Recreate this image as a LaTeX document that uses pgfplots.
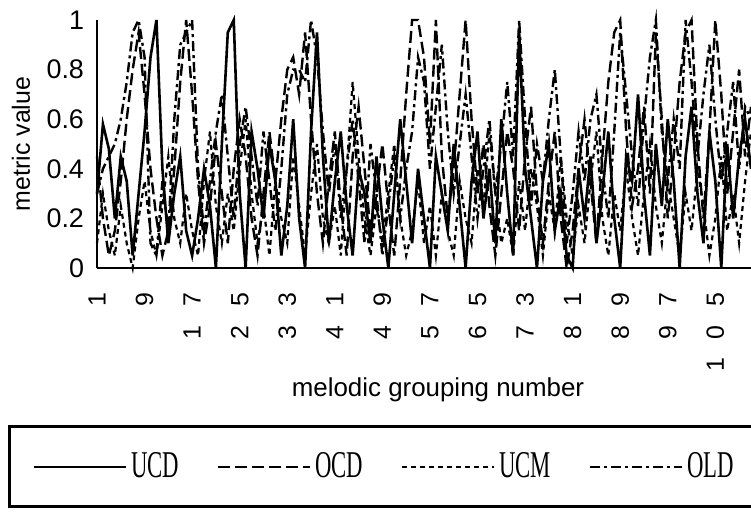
\documentclass[border=0pt]{standalone}
\usepackage{fontspec}
\setmainfont{Liberation Sans}
\newfontfamily\legfont{Liberation Serif}
\newfontfamily\tickfont[LetterSpace=75]{Liberation Sans}
\usepackage{graphicx}
\usepackage{pgfplots}
\usepackage{pgfplotstable}
\pgfplotsset{compat=1.18}

\pgfplotstableread{
g ucd ocd ucm old
1 0.30 0.45 0.10 0.30
2 0.58 0.20 0.30 0.40
3 0.48 0.05 0.15 0.45
4 0.20 0.15 0.05 0.50
5 0.45 0.35 0.25 0.60
6 0.35 0.60 0.10 0.75
7 0.05 0.80 0.00 0.95
8 0.30 0.95 0.20 1.00
9 0.55 0.70 0.35 0.85
10 0.85 0.40 0.15 0.10
11 1.00 0.20 0.05 0.05
12 0.40 0.05 0.25 0.35
13 0.10 0.15 0.45 0.15
14 0.30 0.40 0.20 0.60
15 0.45 0.75 0.10 0.90
16 0.15 1.00 0.30 0.95
17 0.05 0.70 0.15 1.00
18 0.20 0.35 0.05 0.40
19 0.40 0.10 0.35 0.15
20 0.25 0.25 0.55 0.35
21 0.00 0.50 0.25 0.55
22 0.50 0.30 0.10 0.70
23 0.95 0.10 0.30 0.45
24 1.00 0.40 0.15 0.20
25 0.30 0.60 0.40 0.50
26 0.00 0.45 0.60 0.65
27 0.55 0.20 0.30 0.45
28 0.40 0.05 0.10 0.25
29 0.20 0.30 0.25 0.55
30 0.50 0.55 0.05 0.35
31 0.35 0.35 0.35 0.15
32 0.05 0.60 0.20 0.40
33 0.25 0.80 0.10 0.70
34 0.60 0.85 0.45 0.80
35 0.20 0.70 0.25 0.80
36 0.00 0.95 0.05 0.75
37 0.55 0.60 0.30 1.00
38 0.95 0.30 0.50 0.85
39 0.45 0.10 0.20 0.55
40 0.10 0.35 0.10 0.30
41 0.35 0.55 0.25 0.50
42 0.55 0.25 0.05 0.20
43 0.25 0.05 0.40 0.40
44 0.05 0.45 0.75 0.60
45 0.40 0.65 0.45 0.35
46 0.30 0.40 0.20 0.10
47 0.10 0.15 0.05 0.50
48 0.45 0.30 0.25 0.30
49 0.20 0.50 0.10 0.05
50 0.00 0.25 0.30 0.25
51 0.30 0.05 0.50 0.45
52 0.60 0.35 0.20 0.20
53 0.35 0.70 0.05 0.40
54 0.10 1.00 0.15 0.55
55 0.40 1.00 0.35 0.85
56 0.20 0.85 0.10 0.75
57 0.00 0.50 0.25 0.40
58 0.45 1.00 0.05 0.65
59 0.30 0.45 0.30 0.90
60 0.15 0.20 0.15 0.55
61 0.50 0.40 0.05 0.30
62 0.25 0.70 0.35 0.50
63 0.00 1.00 0.20 0.70
64 0.35 0.60 0.10 0.45
65 0.55 0.30 0.40 0.20
66 0.20 0.50 0.25 0.40
67 0.40 0.25 0.55 0.60
68 0.10 0.05 0.30 0.30
69 0.60 0.30 0.10 0.50
70 0.30 0.55 0.20 0.75
71 0.05 0.40 0.05 0.45
72 0.95 0.15 0.35 1.00
73 0.40 0.45 0.15 0.60
74 0.20 0.65 0.40 0.25
75 0.00 0.30 0.25 0.50
76 0.35 0.10 0.05 0.35
77 0.50 0.35 0.30 0.60
78 0.15 0.55 0.15 0.80
79 0.30 0.20 0.45 0.45
80 0.05 0.00 0.20 0.10
81 0.00 0.15 0.05 0.30
82 0.40 0.40 0.25 0.55
83 0.20 0.60 0.10 0.35
84 0.45 0.35 0.35 0.60
85 0.10 0.10 0.55 0.70
86 0.30 0.45 0.20 0.40
87 0.55 0.75 0.05 0.20
88 0.20 0.95 0.30 0.55
89 0.00 1.00 0.15 0.95
90 0.45 0.55 0.40 0.70
91 0.35 0.25 0.20 0.45
92 0.70 0.40 0.05 0.25
93 0.30 0.65 0.30 0.60
94 0.05 0.30 0.50 0.85
95 0.50 0.95 0.25 1.00
96 0.25 0.60 0.10 0.55
97 0.60 0.20 0.35 0.35
98 0.35 0.45 0.20 0.60
99 0.00 0.75 0.05 0.40
100 0.45 0.95 0.30 1.00
101 0.65 1.00 0.15 0.75
102 0.30 0.50 0.40 0.45
103 0.10 0.20 0.25 0.70
104 0.55 0.55 0.05 0.90
105 0.35 1.00 0.20 0.60
106 0.00 0.70 0.45 0.35
107 0.50 0.30 0.15 0.55
108 0.20 0.55 0.30 0.75
109 0.45 0.80 0.10 0.40
110 0.60 0.45 0.35 0.65
111 0.40 0.65 0.55 0.60
}\datatable

\begin{document}
\begin{tikzpicture}
\begin{axis}[
  at={(48.5bp,125bp)}, anchor=south west,
  scale only axis, width=327bp, height=124bp,
  xmin=1, xmax=111, ymin=0, ymax=1,
  clip=false,
  axis x line=bottom, axis y line=left,
  axis line style={-, line width=1.4bp},
  major tick length=0pt,
  xtick={1,9,17,25,33,41,49,57,65,73,81,89,97,105},
  xticklabels={1,9,17,25,33,41,49,57,65,73,81,89,97,105},
  ytick={0,0.2,0.4,0.6,0.8,1},
  yticklabels={0,0.2,0.4,0.6,0.8,1},
  xticklabel style={font=\tickfont\fontsize{12.5}{12.5}\selectfont, yshift=-9bp, rotate=90, anchor=east},
  yticklabel style={font=\fontsize{13.5}{13.5}\selectfont, xshift=-3bp},
  xlabel={melodic grouping number},
  ylabel={metric value},
  every axis x label/.style={at={(rel axis cs:0.5,0)}, yshift=-61bp, xshift=7bp, anchor=center, font=\fontsize{13}{13}\selectfont},
  every axis y label/.style={at={(rel axis cs:0,0.5)}, xshift=-38bp, rotate=90, anchor=center, font=\fontsize{12.5}{12.5}\selectfont},
  legend columns=4,
  legend style={at={(-0.136,-0.968)}, anchor=south west, draw=black, line width=1.4bp,
    inner xsep=12bp, inner ysep=11bp,
    font=\legfont\fontsize{19}{19}\selectfont,
    /tikz/every even column/.append style={column sep=17bp}},
  legend image code/.code={\draw[#1, line width=1bp] (0bp,0bp) -- (46bp,0bp);},
]
\addplot[black, line width=1.3bp] table[x=g, y=ucd] {\datatable};
\addlegendentry{\scalebox{0.6}[1]{UCD}}
\addplot[black, line width=1.2bp, dash pattern=on 6bp off 2.5bp] table[x=g, y=ocd] {\datatable};
\addlegendentry{\scalebox{0.6}[1]{OCD}}
\addplot[black, line width=1.1bp, dash pattern=on 2.5bp off 2bp] table[x=g, y=ucm] {\datatable};
\addlegendentry{\scalebox{0.6}[1]{UCM}}
\addplot[black, line width=1.2bp, dash pattern=on 5bp off 2bp on 1.5bp off 2bp] table[x=g, y=old] {\datatable};
\addlegendentry{\scalebox{0.6}[1]{OLD}}
\end{axis}
\pgfresetboundingbox
\path[use as bounding box] (0,0) rectangle (375.5bp,259bp);
\end{tikzpicture}
\end{document}
